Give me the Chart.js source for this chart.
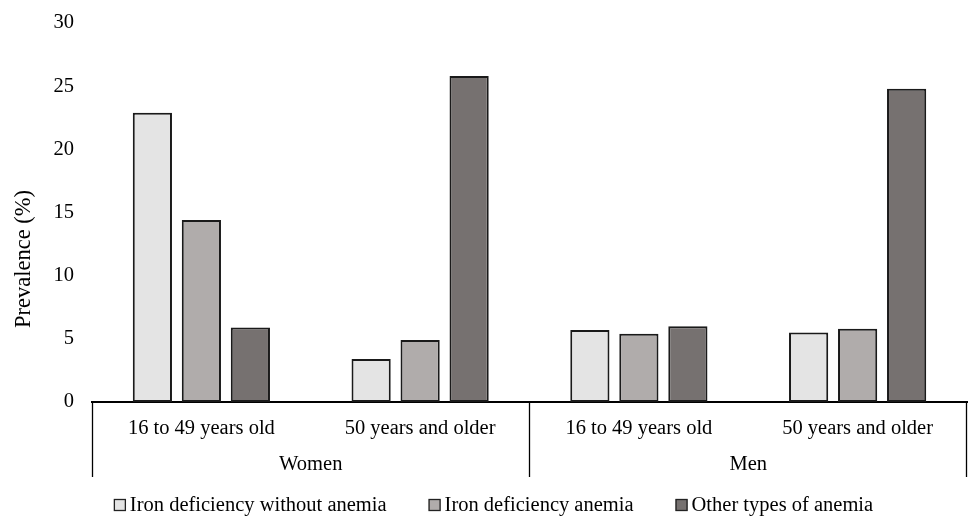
<!DOCTYPE html>
<html lang="en">
<head>
    <meta charset="UTF-8">
    <title>Prevalence of iron deficiency and anemia</title>
    <style>
        body { margin: 0; background: #fff; }
    </style>
</head>
<body>
    <canvas id="anemiaChart" width="969" height="517"></canvas>

    <script src="https://cdn.jsdelivr.net/npm/chart.js"></script>
    <script>
        // Data
        const ageGroups = ['16 to 49 years old', '50 years and older', '16 to 49 years old', '50 years and older'];
        const sexGroups = ['Women', 'Men'];
        const seriesNames = ['Iron deficiency without anemia', 'Iron deficiency anemia', 'Other types of anemia'];
        const idWithoutAnemia = [22.9, 3.4, 5.7, 5.5];
        const idAnemia = [14.4, 4.9, 5.4, 5.8];
        const otherAnemia = [5.9, 25.8, 6.0, 24.8];
        const yTicks = [0, 5, 10, 15, 20, 25, 30];

        const fills = ['#e4e4e4', '#b0acab', '#767170'];
        const font = 'Liberation Serif, Times New Roman, serif';

        // y title, second row of the x axis (Women / Men), dividers and the legend
        const groupAxis = {
            id: 'groupAxis',
            afterDraw(chart) {
                const ctx = chart.ctx;
                const x = chart.scales.x;
                ctx.save();

                // y axis title, centred on the full figure height like the original
                ctx.fillStyle = '#000';
                ctx.font = '22.5px ' + font;
                ctx.textAlign = 'center';
                ctx.textBaseline = 'middle';
                ctx.save();
                ctx.translate(24, 259);
                ctx.rotate(-Math.PI / 2);
                ctx.fillText('Prevalence (%)', 0, 0);
                ctx.restore();

                // divider lines
                const mid = (x.getPixelForTick(1) + x.getPixelForTick(2)) / 2;
                ctx.strokeStyle = '#000';
                ctx.lineWidth = 1.3;
                [x.left + 0.5, mid, x.right - 0.5].forEach(px => {
                    ctx.beginPath();
                    ctx.moveTo(px, x.top);
                    ctx.lineTo(px, x.bottom);
                    ctx.stroke();
                });

                // group labels
                ctx.font = '20.5px ' + font;
                sexGroups.forEach((name, i) => {
                    const cx = (x.getPixelForTick(i * 2) + x.getPixelForTick(i * 2 + 1)) / 2;
                    ctx.fillText(name, cx, x.top + 63);
                });

                // legend
                const box = 12, boxGap = 4, itemGap = 42;
                const widths = chart.data.datasets.map(ds => box + boxGap + ctx.measureText(ds.label).width);
                const total = widths.reduce((a, b) => a + b, 0) + itemGap * (widths.length - 1);
                let lx = chart.width / 2 + 9 - total / 2;
                const ly = 505;
                ctx.textAlign = 'left';
                chart.data.datasets.forEach((ds, i) => {
                    ctx.fillStyle = ds.backgroundColor;
                    ctx.fillRect(lx, ly - box / 2, box, box);
                    ctx.strokeStyle = '#222';
                    ctx.lineWidth = 1.3;
                    ctx.strokeRect(lx + 0.5, ly - box / 2 + 0.5, box - 1, box - 1);
                    ctx.fillStyle = '#000';
                    ctx.fillText(ds.label, lx + box + boxGap, ly + 1);
                    lx += widths[i] + itemGap;
                });
                ctx.restore();
            }
        };

        const ctx = document.getElementById('anemiaChart').getContext('2d');
        const chart = new Chart(ctx, {
            type: 'bar',
            data: {
                labels: ageGroups,
                datasets: [idWithoutAnemia, idAnemia, otherAnemia].map((values, i) => ({
                    label: seriesNames[i],
                    data: values,
                    backgroundColor: fills[i],
                    borderColor: '#1a1a1a',
                    borderWidth: 2,
                    borderSkipped: false,
                    categoryPercentage: 0.672,
                    barPercentage: 0.8
                }))
            },
            options: {
                responsive: false,
                animation: false,
                layout: { padding: { top: 23, bottom: 40, left: 0, right: 2 } },
                plugins: {
                    legend: { display: false },
                    tooltip: { enabled: false }
                },
                scales: {
                    x: {
                        grid: { display: false, drawTicks: false },
                        border: { display: true, color: '#000', width: 2 },
                        ticks: {
                            color: '#000',
                            font: { family: font, size: 20.5 },
                            padding: 14,
                            maxRotation: 0,
                            autoSkip: false
                        },
                        afterFit: s => { s.height = 75; }
                    },
                    y: {
                        min: 0,
                        max: 30,
                        grid: { display: false, drawTicks: false },
                        border: { display: false },
                        afterBuildTicks: s => { s.ticks = yTicks.map(v => ({ value: v })); },
                        ticks: {
                            color: '#000',
                            font: { family: font, size: 20.5 },
                            padding: 18
                        },
                        // fixed width; tick padding must not push the plot top down
                        afterFit: s => { s.width = 92; s.paddingTop = 0; s.paddingBottom = 0; }
                    }
                }
            },
            plugins: [groupAxis]
        });
    </script>
</body>
</html>
